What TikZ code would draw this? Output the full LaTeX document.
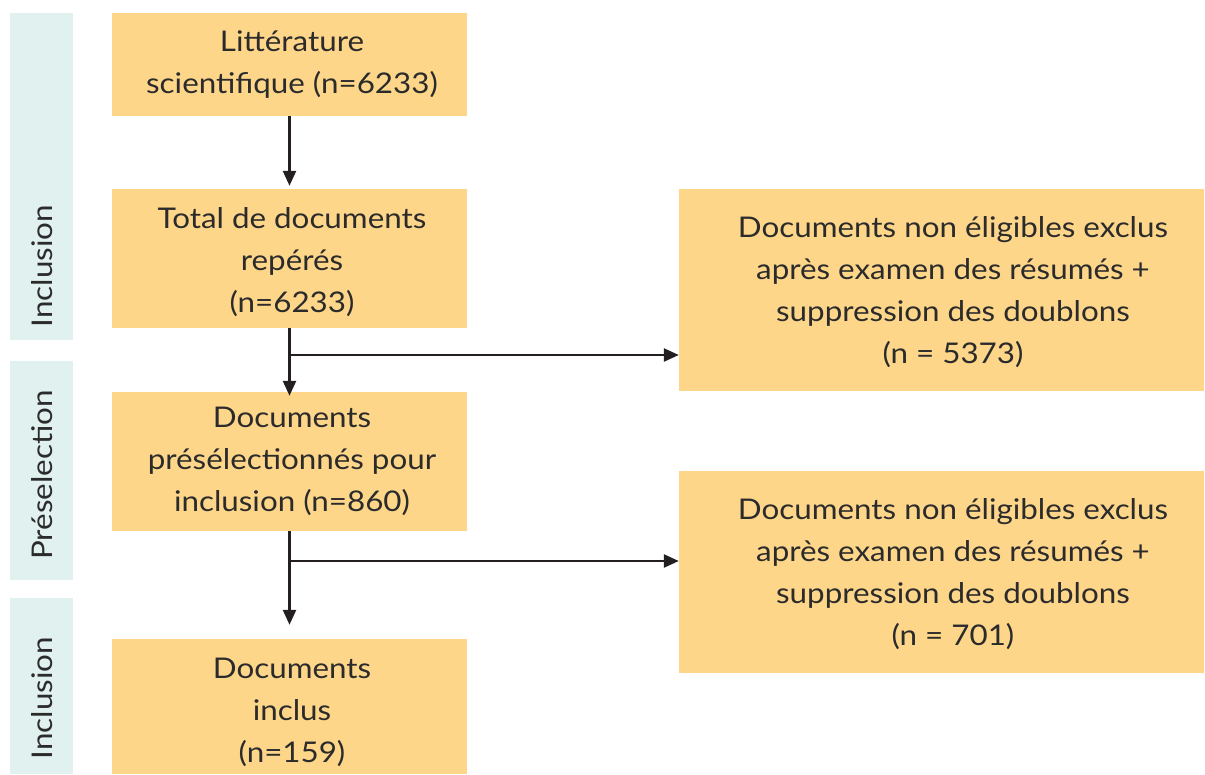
\documentclass[tikz,border=0pt]{standalone}
\usepackage{fontspec}
\setmainfont{Lato}[FakeStretch=1.1]
\usetikzlibrary{arrows.meta}
\definecolor{boxfill}{HTML}{FDD68A}
\definecolor{barfill}{HTML}{E1F1F0}
\definecolor{ink}{HTML}{231F20}
\definecolor{txt}{HTML}{2B2B2B}
\tikzset{
  box/.style={fill=boxfill, draw=none, inner sep=0pt, align=center, text=txt,
    font=\fontsize{28.5}{42}\selectfont},
  bar/.style={fill=barfill, draw=none, inner sep=0pt},
  barlabel/.style={rotate=90, text=txt, font=\fontsize{28.5}{32}\selectfont},
  conn/.style={draw=ink, line width=2.5pt, -{Triangle[length=15pt,width=13pt]}},
  line/.style={draw=ink, line width=2.5pt}
}
\begin{document}
\begin{tikzpicture}[x=1pt,y=-1pt]
\useasboundingbox (0,0) rectangle (1205,774);
% side bars
\node[bar, minimum width=63pt, minimum height=327pt] (s1) at (41.5,176.5) {};
\node[bar, minimum width=63pt, minimum height=219pt] (s2) at (41.5,470.5) {};
\node[bar, minimum width=63pt, minimum height=176pt] (s3) at (41.5,686) {};
\node[barlabel] (l1) at (42,266) {Inclusion};
\node[barlabel] (l2) at (42,475) {Préselection};
\node[barlabel] (l3) at (42,698) {Inclusion};
% boxes
\node[box, minimum width=355pt, minimum height=103pt] (b1) at (289.5,64.5) {};
\node[box] (t1) at (292,65) {Littérature\\scientifique (n=6233)};
\node[box, minimum width=355pt, minimum height=139pt] (b2) at (289.5,258.5) {};
\node[box] (t2) at (292,262) {Total de documents\\repérés\\(n=6233)};
\node[box, minimum width=355pt, minimum height=139pt] (b3) at (289.5,461.5) {};
\node[box] (t3) at (292,461) {Documents\\présélectionnés pour\\inclusion (n=860)};
\node[box, minimum width=355pt, minimum height=135pt] (b4) at (289.5,706.5) {};
\node[box] (t4) at (292,712) {Documents\\inclus\\(n=159)};
\node[box, minimum width=525pt, minimum height=202pt] (rA) at (941.5,290) {};
\node[box] (tA) at (953,292) {Documents non éligibles exclus\\après examen des résumés +\\suppression des doublons\\(n = 5373)};
\node[box, minimum width=525pt, minimum height=202pt] (rB) at (941.5,572) {};
\node[box] (tB) at (953,574) {Documents non éligibles exclus\\après examen des résumés +\\suppression des doublons\\(n = 701)};
% connectors
\coordinate (j1) at (289.5,355);
\coordinate (j2) at (289.5,561);
\draw[conn, shorten >=3pt] (b1.south) -- (b2.north);
\draw[conn, shorten >=-4pt] (b2.south) -- (b3.north);
\draw[conn] (j1) -- (j1 -| rA.west);
\draw[line] (b3.south) -- (j2);
\draw[conn, shorten >=14pt] (b3.south) -- (b4.north);
\draw[conn] (j2) -- (j2 -| rB.west);
\end{tikzpicture}
\end{document}
